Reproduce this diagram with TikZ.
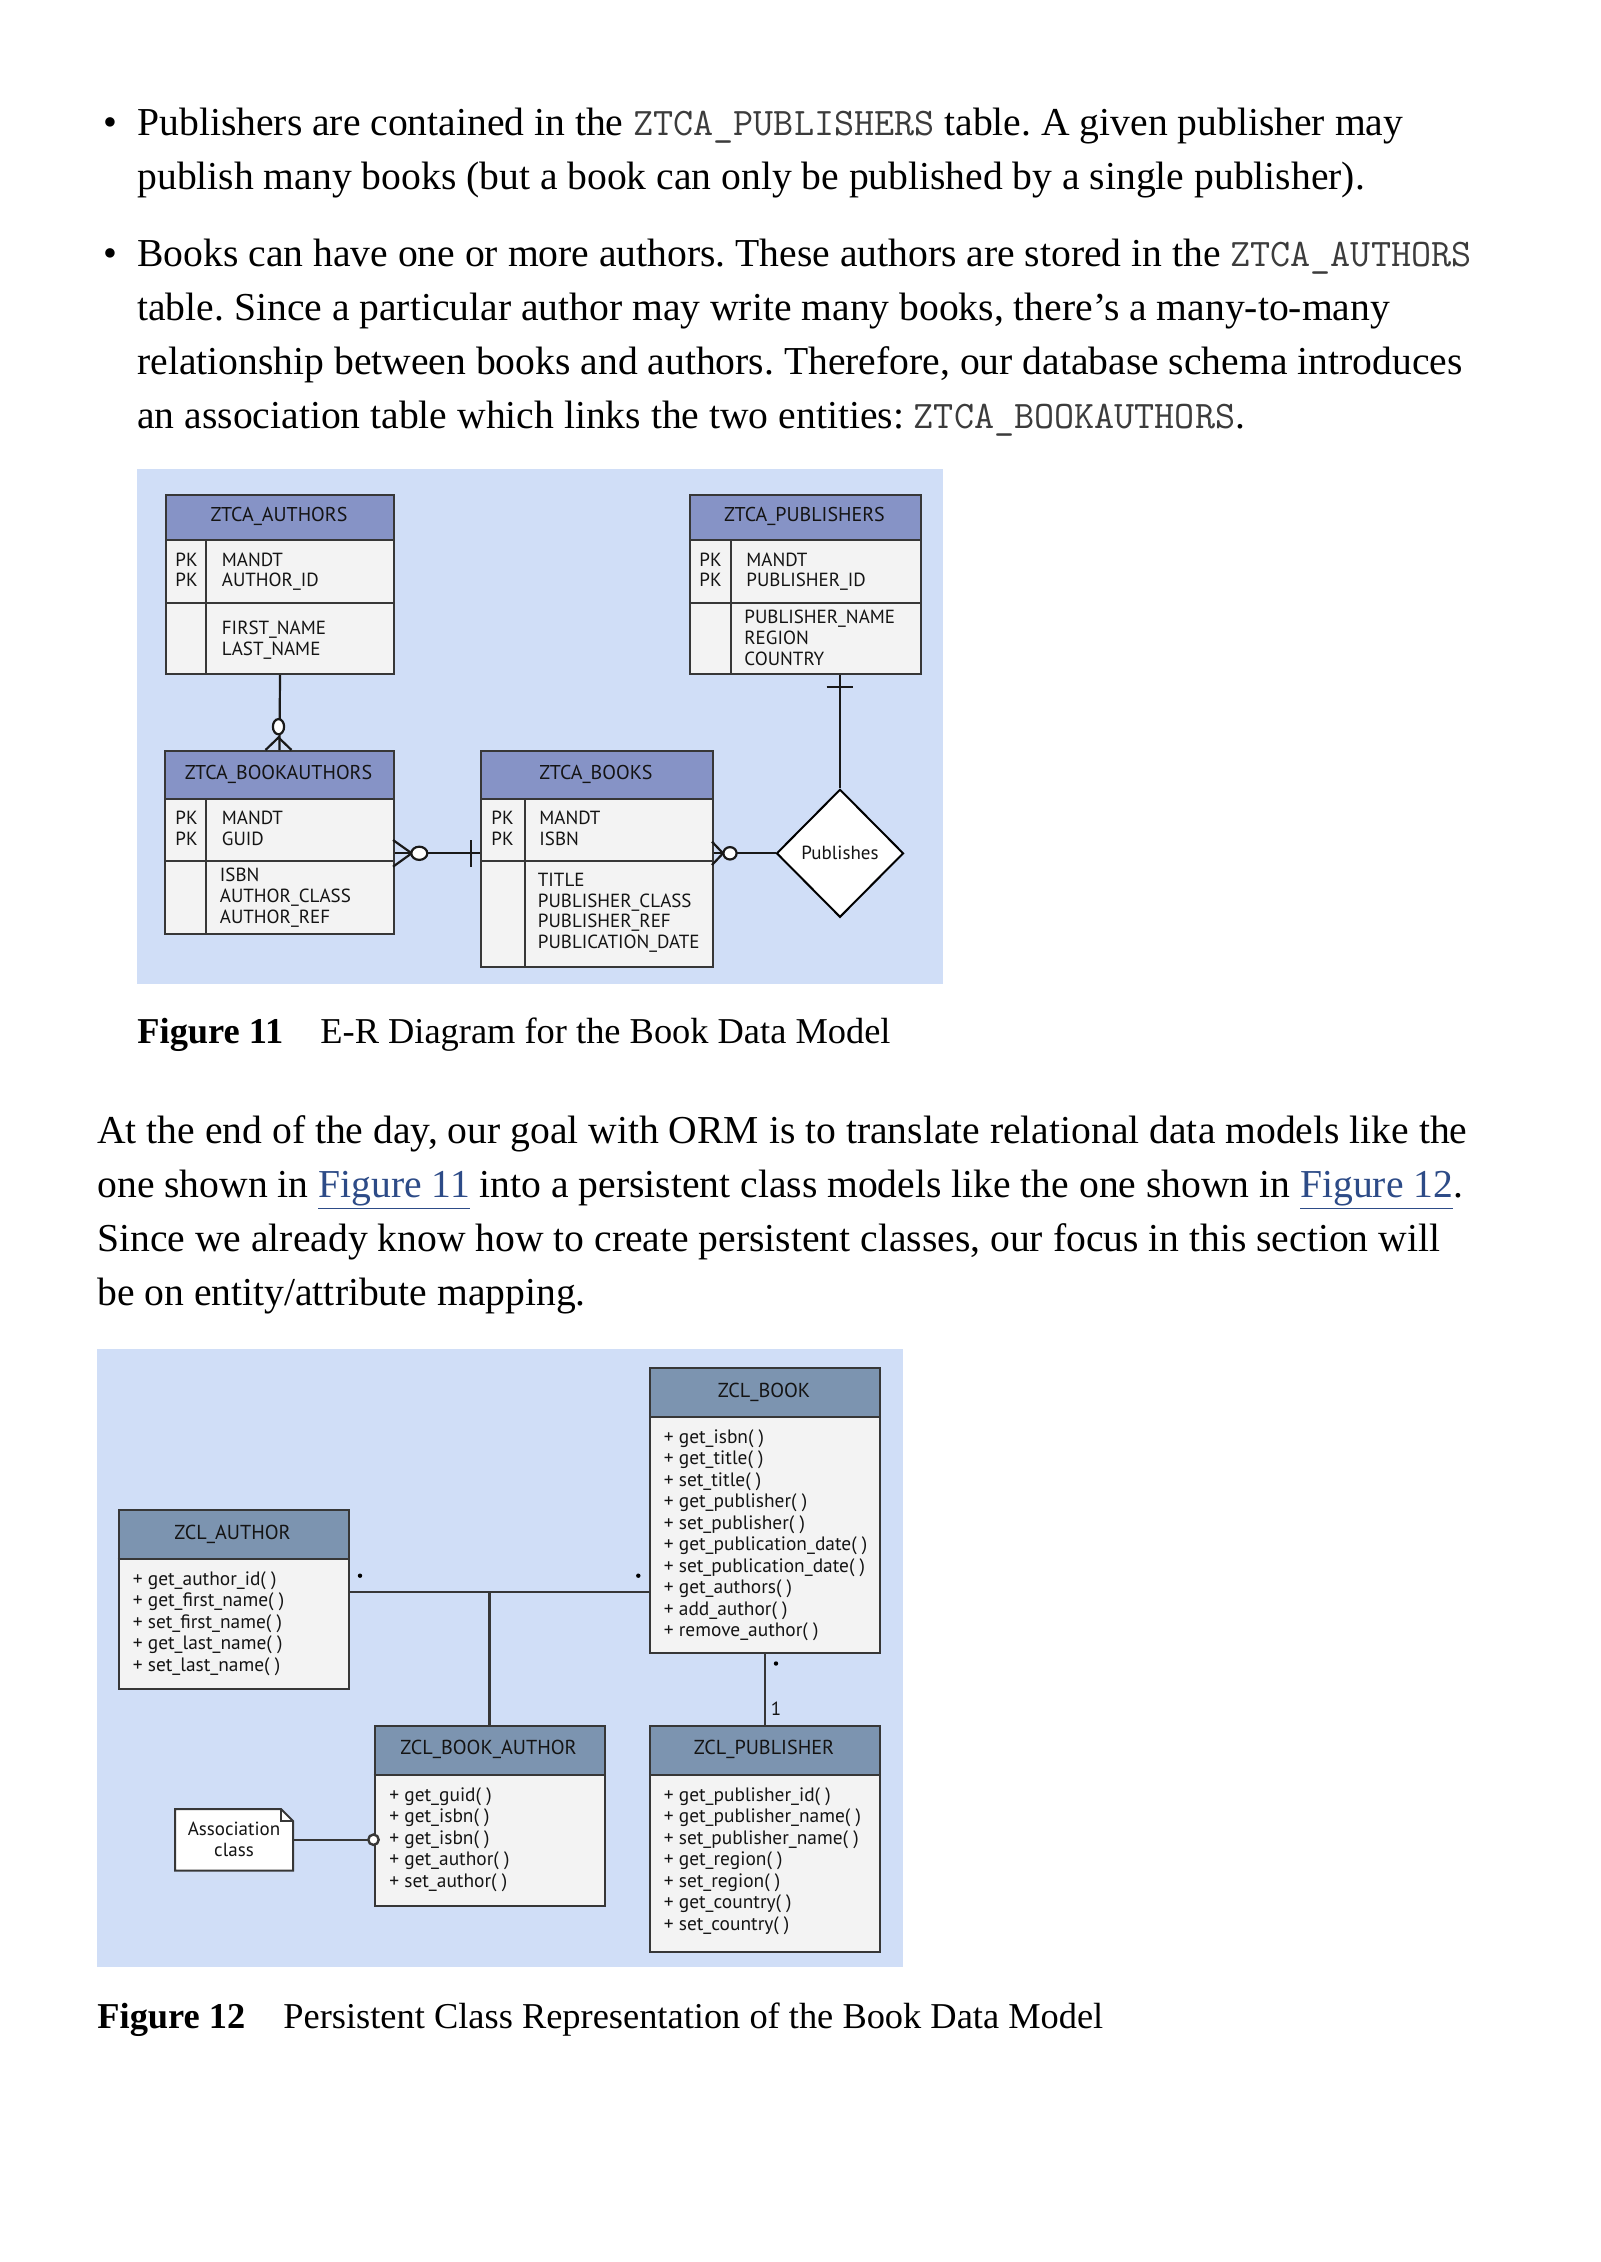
\documentclass[tikz,border=0pt]{standalone}
\usepackage{fontspec}
\setmainfont{Liberation Serif}
\newfontfamily\dsans{PT Sans}
\usetikzlibrary{shapes.geometric}
\definecolor{panel}{RGB}{208,222,247}
\definecolor{hdrA}{RGB}{134,147,198}
\definecolor{hdrB}{RGB}{124,148,176}
\definecolor{bodyfill}{RGB}{243,243,243}
\definecolor{edge}{RGB}{55,55,55}
\definecolor{linkc}{RGB}{45,75,135}
\definecolor{ink}{RGB}{20,20,20}
\definecolor{monoc}{RGB}{60,60,60}
\newcommand\mw[1]{{\ttfamily\fontsize{19.5}{27}\selectfont\color{monoc}#1}}
\newcommand\lnk[1]{\textcolor{linkc}{\underline{#1}}}
% table box: name, x1, y1, x2, y2, header bottom, header colour
\newcommand\clsbox[7]{%
  \fill[bodyfill] (#2,#3) rectangle (#4,#5);
  \fill[#7] (#2,#3) rectangle (#4,#6);
  \draw[edge, line width=1pt] (#2,#6) -- (#4,#6);
  \node[draw=edge, line width=1pt, inner sep=0, anchor=north west,
        minimum width={(#4-#2)*0.5pt}, minimum height={(#5-#3)*0.5pt}] (#1) at (#2,#3) {};}
\begin{document}
\frenchspacing
\begin{tikzpicture}[x=0.5pt,y=-0.5pt,
  body/.style={font=\fontsize{19.8}{27}\selectfont, anchor=base west, inner sep=0},
  capt/.style={font=\fontsize{18.2}{27}\selectfont, anchor=base west, inner sep=0},
  er/.style={font=\dsans\fontsize{9.5}{10}\selectfont, text=ink, anchor=base west, inner sep=0},
  erh/.style={er, font=\dsans\fontsize{10}{10}\selectfont, anchor=base},
  cl/.style={er, font=\dsans\fontsize{9.7}{10}\selectfont},
  clh/.style={er, font=\dsans\fontsize{10.1}{10}\selectfont, anchor=base},
  conn/.style={line width=1.1pt, draw=black!90},
  uconn/.style={line width=1.2pt, draw=edge},
  mult/.style={circle, fill=black, inner sep=0, minimum size=2.2pt}]
\useasboundingbox (0,0) rectangle (1600,2262);
\fill[white] (0,0) rectangle (1600,2262);

% ---------- bullets ----------
\node[body] (bu1) at (103,136) {•};
\node[body] (t11) at (137,136) {Publishers are contained in the \mw{ZTCA\_PUBLISHERS} table. A given publisher may};
\node[body] (t12) at (137,190) {publish many books (but a book can only be published by a single publisher).};
\node[body] (bu2) at (103,267) {•};
\node[body] (t21) at (137,267) {Books can have one or more authors. These authors are stored in the \mw{ZTCA\_AUTHORS}};
\node[body] (t22) at (137,321) {table. Since a particular author may write many books, there’s a many-to-many};
\node[body] (t23) at (137,375) {relationship between books and authors. Therefore, our database schema introduces};
\node[body] (t24) at (137,429) {an association table which links the two entities: \mw{ZTCA\_BOOKAUTHORS}.};

% ---------- Figure 11 ----------
\fill[panel] (137,469) rectangle (943,984);
\clsbox{auth}{165}{494}{393}{673}{540}{hdrA}
\draw[edge, line width=1pt] (165,603) -- (393,603) (206,540) -- (206,673);
\clsbox{pub}{689}{494}{920}{673}{540}{hdrA}
\draw[edge, line width=1pt] (689,603) -- (920,603) (731,540) -- (731,673);
\clsbox{ba}{164}{750}{393}{933}{799}{hdrA}
\draw[edge, line width=1pt] (164,861) -- (393,861) (206,799) -- (206,933);
\clsbox{bk}{480}{750}{712}{966}{799}{hdrA}
\draw[edge, line width=1pt] (480,861) -- (712,861) (525,799) -- (525,966);

\node[erh] (authh) at (279,522) {ZTCA\_AUTHORS};
\node[er] (authp1) at (175,566.5) {PK};
\node[er] (authp2) at (175,587) {PK};
\node[er] (autha1) at (221.5,566.5) {MANDT};
\node[er] (autha2) at (221.5,587) {AUTHOR\_ID};
\node[er] (autha3) at (221.5,634.5) {FIRST\_NAME};
\node[er] (autha4) at (221.5,655) {LAST\_NAME};

\node[erh] (pubh) at (804.5,522) {ZTCA\_PUBLISHERS};
\node[er] (pubp1) at (699,566.5) {PK};
\node[er] (pubp2) at (699,587) {PK};
\node[er] (puba1) at (746,566.5) {MANDT};
\node[er] (puba2) at (746,587) {PUBLISHER\_ID};
\node[er] (puba3) at (744,624) {PUBLISHER\_NAME};
\node[er] (puba4) at (744,644.5) {REGION};
\node[er] (puba5) at (744,665) {COUNTRY};

\node[erh] (bah) at (278.5,779.5) {ZTCA\_BOOKAUTHORS};
\node[er] (bap1) at (175,824.7) {PK};
\node[er] (bap2) at (175,845.4) {PK};
\node[er] (baa1) at (221.5,824.7) {MANDT};
\node[er] (baa2) at (221.5,845.4) {GUID};
\node[er] (baa3) at (219.5,881.5) {ISBN};
\node[er] (baa4) at (219.5,902.2) {AUTHOR\_CLASS};
\node[er] (baa5) at (219.5,923) {AUTHOR\_REF};

\node[erh] (bkh) at (596,779.5) {ZTCA\_BOOKS};
\node[er] (bkp1) at (491,824.7) {PK};
\node[er] (bkp2) at (491,845.4) {PK};
\node[er] (bka1) at (539,824.7) {MANDT};
\node[er] (bka2) at (539,845.4) {ISBN};
\node[er] (bka3) at (537.5,886.4) {TITLE};
\node[er] (bka4) at (537.5,907) {PUBLISHER\_CLASS};
\node[er] (bka5) at (537.5,927.8) {PUBLISHER\_REF};
\node[er] (bka6) at (537.5,948.6) {PUBLICATION\_DATE};

\node[diamond, draw=black, line width=1pt, fill=white, inner sep=0, shape aspect=1,
      minimum width=63.5pt, minimum height=64pt, font=\dsans\fontsize{9.5}{10}\selectfont, text=ink]
      (dia) at (840,853.3) {Publishes};

% connectors
\draw[conn] (auth.south) -- (ba.north);
\draw[conn] (265.5,750) -- (278.5,737.5) -- (291.5,750);
\draw[conn, fill=white] (278.5,726.7) ellipse [x radius=2.8pt, y radius=3.8pt];

\draw[conn] (ba.east |- dia) -- (bk.west |- dia);
\draw[conn] (393,840) -- (411.7,853.3) -- (393,866.7);
\draw[conn, fill=white] (419.3,853.3) ellipse [x radius=4pt, y radius=3.3pt];
\draw[conn] (470.7,840) -- (470.7,866.7);

\draw[conn] (bk.east |- dia) -- (dia.west);
\draw[conn] (712,841.7) -- (723,853.3) -- (712,865);
\draw[conn, fill=white] (730,853.3) ellipse [x radius=3.3pt, y radius=3.1pt];

\draw[conn] (pub.south -| dia) -- (dia.north);
\draw[conn] (826.7,687.3) -- (853.3,687.3);

% caption 11
\node[capt] (cap11a) at (137,1043) {\textbf{Figure 11}};
\node[capt] (cap11b) at (320,1043) {E-R Diagram for the Book Data Model};

% ---------- paragraph ----------
\node[body] (p1) at (97,1143) {At the end of the day, our goal with ORM is to translate relational data models like the};
\node[body] (p2) at (97,1197) {one shown in \lnk{Figure 11} into a persistent class models like the one shown in \lnk{Figure 12}.};
\node[body] (p3) at (97,1251) {Since we already know how to create persistent classes, our focus in this section will};
\node[body] (p4) at (97,1305) {be on entity/attribute mapping.};

% ---------- Figure 12 ----------
\fill[panel] (97,1349) rectangle (903,1967);
\clsbox{book}{649}{1367}{879}{1652}{1417}{hdrB}
\clsbox{author}{117.5}{1509}{347.5}{1688}{1559}{hdrB}
\clsbox{bauth}{373.5}{1724.5}{603.5}{1904.5}{1774.5}{hdrB}
\clsbox{publ}{649}{1724.5}{879}{1951}{1774.5}{hdrB}

\node[clh] (bookh) at (764,1397.5) {ZCL\_BOOK};
\foreach \t [count=\i from 0] in {get\_isbn( ),get\_title( ),set\_title( ),get\_publisher( ),set\_publisher( ),get\_publication\_date( ),set\_publication\_date( ),get\_authors( ),add\_author( ),remove\_author( )}
  \node[cl] (bookm\i) at (663.5,1443+21.53*\i) {+ \t};

\node[clh] (authorh) at (232.5,1539) {ZCL\_AUTHOR};
\foreach \t [count=\i from 0] in {get\_author\_id( ),get\_first\_name( ),set\_first\_name( ),get\_last\_name( ),set\_last\_name( )}
  \node[cl] (authorm\i) at (132.5,1585+21.53*\i) {+ \t};

\node[clh] (bauthh) at (488.5,1754.5) {ZCL\_BOOK\_AUTHOR};
\foreach \t [count=\i from 0] in {get\_guid( ),get\_isbn( ),get\_isbn( ),get\_author( ),set\_author( )}
  \node[cl] (bauthm\i) at (389,1801+21.53*\i) {+ \t};

\node[clh] (publh) at (764,1754.5) {ZCL\_PUBLISHER};
\foreach \t [count=\i from 0] in {get\_publisher\_id( ),get\_publisher\_name( ),set\_publisher\_name( ),get\_region( ),set\_region( ),get\_country( ),set\_country( )}
  \node[cl] (publm\i) at (663.5,1801+21.53*\i) {+ \t};

% note
\draw[edge, line width=1pt, fill=white] (175,1809) -- (281,1809) -- (293,1821) -- (293,1870.5) -- (175,1870.5) -- cycle;
\draw[edge, line width=0.8pt] (281,1809) -- (281,1821) -- (293,1821);
\node[inner sep=0, minimum width=59pt, minimum height=30.7pt, align=center,
      font=\dsans\fontsize{9.5}{10.4}\selectfont, text=ink] (note) at (234,1839.7) {Association\\class};

% connectors
\coordinate (jn) at (bauth.north |- 0,1591.7);
\draw[uconn] (author.east |- jn) -- (book.west |- jn);
\draw[uconn] (jn) -- (bauth.north);
\draw[uconn] (book.south) -- (publ.north);
\draw[uconn] (note.east) -- (bauth.west |- note.east);
\draw[uconn, fill=white] (bauth.west |- note.east) circle [radius=2.6pt];

\node[mult] (m1) at (360,1575.7) {};
\node[mult] (m2) at (638.3,1575.7) {};
\node[mult] (m3) at (776,1663.5) {};
\node[font=\dsans\fontsize{9.5}{10}\selectfont, text=ink, inner sep=0] (m4) at (776,1709) {1};

% caption 12
\node[capt] (cap12a) at (97,2028) {\textbf{Figure 12}};
\node[capt] (cap12b) at (283,2028) {Persistent Class Representation of the Book Data Model};
\end{tikzpicture}
\end{document}
